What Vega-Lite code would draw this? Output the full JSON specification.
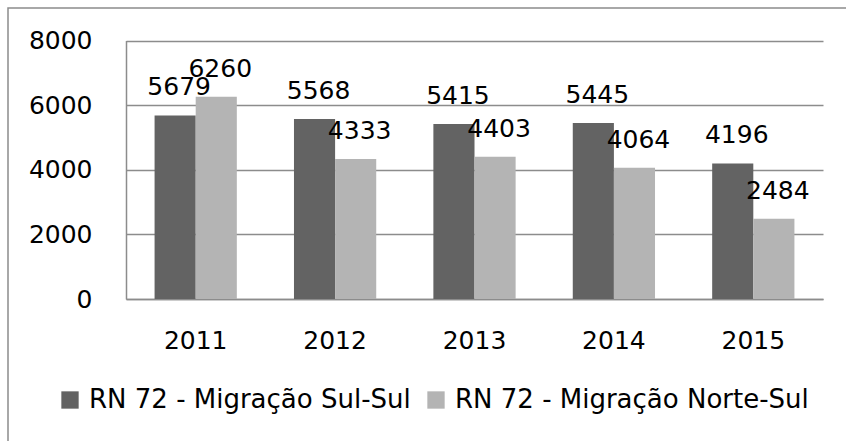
{
  "$schema": "https://vega.github.io/schema/vega-lite/v6.json",
  "width": 900,
  "height": 500,
  "autosize": {"type": "none"},
  "padding": {"left": 8, "top": 8, "right": 0, "bottom": 0},
  "background": "white",
  "config": {
    "view": {"stroke": "#8c8c8c", "strokeWidth": 1.5},
    "font": "DejaVu Sans"
  },
  "data": {
    "values": [
      {"ano": "2011", "serie": "RN 72 - Migração Sul-Sul", "valor": 5679},
      {"ano": "2011", "serie": "RN 72 - Migração Norte-Sul", "valor": 6260},
      {"ano": "2012", "serie": "RN 72 - Migração Sul-Sul", "valor": 5568},
      {"ano": "2012", "serie": "RN 72 - Migração Norte-Sul", "valor": 4333},
      {"ano": "2013", "serie": "RN 72 - Migração Sul-Sul", "valor": 5415},
      {"ano": "2013", "serie": "RN 72 - Migração Norte-Sul", "valor": 4403},
      {"ano": "2014", "serie": "RN 72 - Migração Sul-Sul", "valor": 5445},
      {"ano": "2014", "serie": "RN 72 - Migração Norte-Sul", "valor": 4064},
      {"ano": "2015", "serie": "RN 72 - Migração Sul-Sul", "valor": 4196},
      {"ano": "2015", "serie": "RN 72 - Migração Norte-Sul", "valor": 2484}
    ]
  },
  "encoding": {
    "x": {
      "field": "ano",
      "type": "nominal",
      "scale": {"range": [118, 815], "paddingInner": 0.41, "paddingOuter": 0.205},
      "axis": {
        "title": null,
        "labelAngle": 0,
        "offset": -209,
        "ticks": false,
        "domainColor": "#8c8c8c",
        "domainWidth": 1.5,
        "labelFontSize": 25,
        "labelColor": "#000000",
        "labelPadding": 29
      }
    },
    "xOffset": {
      "field": "serie",
      "type": "nominal",
      "sort": ["RN 72 - Migração Sul-Sul", "RN 72 - Migração Norte-Sul"]
    },
    "y": {
      "field": "valor",
      "type": "quantitative",
      "scale": {"domain": [0, 8000], "range": [291, 32.5], "nice": false},
      "axis": {
        "title": null,
        "values": [0, 2000, 4000, 6000, 8000],
        "format": "d",
        "offset": -118,
        "ticks": false,
        "domainColor": "#8c8c8c",
        "domainWidth": 1.5,
        "gridColor": "#8c8c8c",
        "gridWidth": 1.5,
        "labelFontSize": 25,
        "labelColor": "#000000",
        "labelPadding": 34
      }
    }
  },
  "layer": [
    {
      "mark": {"type": "bar"},
      "encoding": {
        "color": {
          "field": "serie",
          "type": "nominal",
          "scale": {
            "domain": ["RN 72 - Migração Sul-Sul", "RN 72 - Migração Norte-Sul"],
            "range": ["#636363", "#b4b4b4"]
          },
          "legend": {
            "title": null,
            "orient": "none",
            "legendX": 49,
            "legendY": 379,
            "direction": "horizontal",
            "columns": 2,
            "symbolType": "square",
            "symbolSize": 300,
            "symbolStrokeWidth": 0,
            "labelFontSize": 26,
            "labelColor": "#000000",
            "labelOffset": 6,
            "columnPadding": 12,
            "labelLimit": 500
          }
        }
      }
    },
    {
      "mark": {"type": "text", "fontSize": 25, "baseline": "middle", "dy": -28, "dx": 4, "color": "#000000"},
      "encoding": {
        "text": {"field": "valor", "type": "quantitative", "format": "d"}
      }
    }
  ]
}
